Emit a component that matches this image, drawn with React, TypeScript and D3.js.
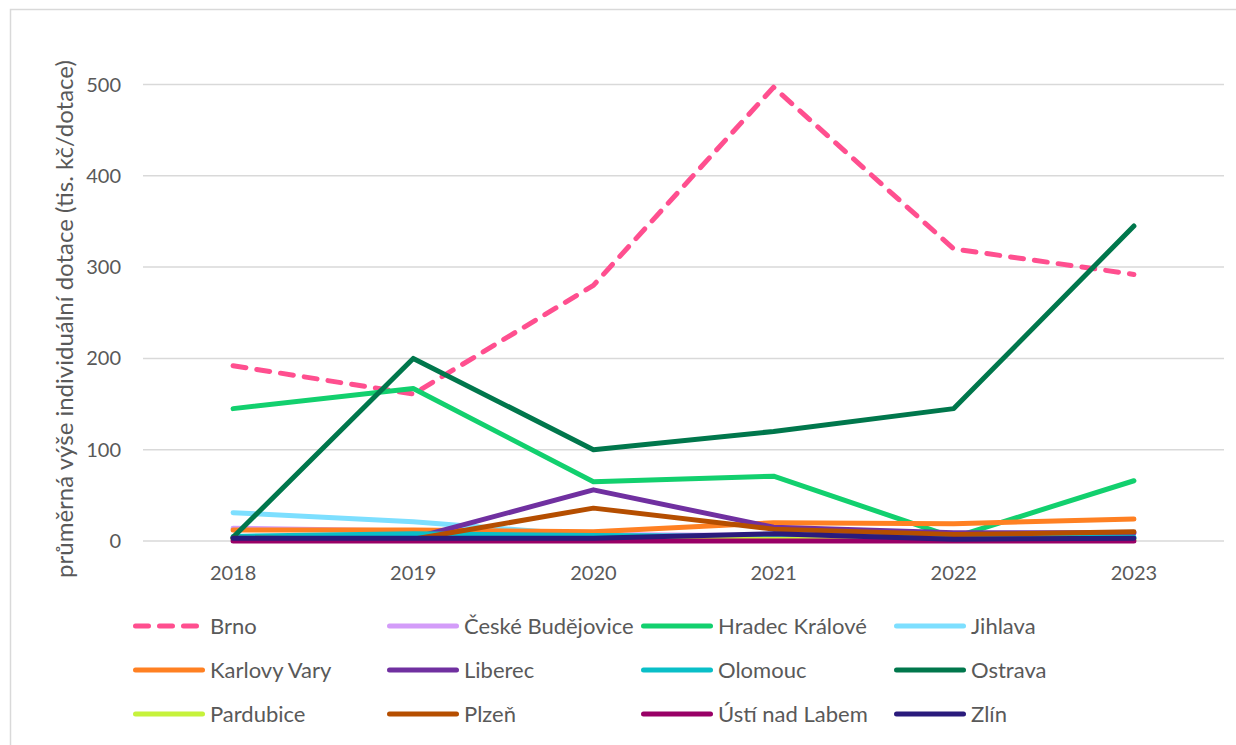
import React from "react";
import * as d3 from "d3";

const years = ["2018", "2019", "2020", "2021", "2022", "2023"];
const yTicks = [0, 100, 200, 300, 400, 500];

const seriesNames = [
  "Brno",
  "České Budějovice",
  "Hradec Králové",
  "Jihlava",
  "Karlovy Vary",
  "Liberec",
  "Olomouc",
  "Ostrava",
  "Pardubice",
  "Plzeň",
  "Ústí nad Labem",
  "Zlín",
];

const brno = [192, 161, 280, 497, 320, 292];
const ceskeBudejovice = [14, 11, 7, 6, 6, 8];
const hradecKralove = [145, 167, 65, 71, 4, 66];
const jihlava = [31, 21, 6, 4, 3, 3];
const karlovyVary = [12, 12, 10, 20, 19, 24];
const liberec = [3, 3, 56, 15, 9, 9];
const olomouc = [5, 8, 6, 5, 4, 4];
const ostrava = [4, 200, 100, 120, 145, 345];
const pardubice = [2, 2, 2, 2, 2, 2];
const plzen = [3, 2, 36, 13, 7, 10];
const ustiNadLabem = [0, 0, 0, 0, 0, 0];
const zlin = [3, 3, 3, 8, 2, 3];

const seriesValues = [
  brno,
  ceskeBudejovice,
  hradecKralove,
  jihlava,
  karlovyVary,
  liberec,
  olomouc,
  ostrava,
  pardubice,
  plzen,
  ustiNadLabem,
  zlin,
];

const colors = [
  "#FF4F8F",
  "#D39CF9",
  "#12D06E",
  "#7DDFFF",
  "#FF8022",
  "#7030A0",
  "#0ABFC8",
  "#00774C",
  "#C6F23B",
  "#B54E00",
  "#990066",
  "#2A1B7C",
];

const FONT = "Lato, 'Open Sans', sans-serif";
const TEXT = "#595959";

export default function App() {
  const W = 1236;
  const H = 745;
  const plotLeft = 143;
  const plotRight = 1224;
  const x = d3.scaleBand<string>().domain(years).range([plotLeft, plotRight]);
  const y = d3.scaleLinear().domain([0, 500]).range([541, 84.5]);
  const cx = (yr: string) => (x(yr) as number) + x.bandwidth() / 2;

  const line = d3
    .line<number>()
    .x((_, i) => cx(years[i]))
    .y((d) => y(d));

  const legendCols = [133, 387, 641, 894];
  const legendRows = [626, 670, 714];

  return (
    <svg
      width={W}
      height={H}
      style={{ position: "absolute", left: 0, top: 0, background: "#fff" }}
      fontFamily={FONT}
    >
      <rect x={0} y={0} width={W} height={H} fill="#fff" />
      <rect
        x={10.5}
        y={9.5}
        width={W + 20}
        height={H + 20}
        fill="none"
        stroke="#D9D9D9"
        strokeWidth={1.5}
      />
      {yTicks.map((t) => (
        <g key={t}>
          <line
            x1={plotLeft}
            x2={plotRight}
            y1={y(t)}
            y2={y(t)}
            stroke="#D9D9D9"
            strokeWidth={1.5}
          />
          <text
            x={121}
            y={y(t)}
            dy="0.35em"
            textAnchor="end"
            fontSize={20}
            fill={TEXT}
          >
            {t}
          </text>
        </g>
      ))}
      {years.map((yr) => (
        <text
          key={yr}
          x={cx(yr)}
          y={580}
          textAnchor="middle"
          fontSize={20}
          fill={TEXT}
        >
          {yr}
        </text>
      ))}
      <text
        transform={`translate(73,319) rotate(-90)`}
        textAnchor="middle"
        fontSize={24}
        fill={TEXT}
      >
        průměrná výše individuální dotace (tis. kč/dotace)
      </text>
      {seriesValues.map((vals, i) => (
        <path
          key={seriesNames[i]}
          d={line(vals) || ""}
          fill="none"
          stroke={colors[i]}
          strokeWidth={5}
          strokeLinejoin="round"
          strokeLinecap="round"
          strokeDasharray={i === 0 ? "13 11" : undefined}
        />
      ))}
      {seriesNames.map((name, i) => {
        const lx = legendCols[i % 4];
        const ly = legendRows[Math.floor(i / 4)];
        return (
          <g key={name}>
            <line
              x1={lx + 2.5}
              x2={lx + 69.5}
              y1={ly}
              y2={ly}
              stroke={colors[i]}
              strokeWidth={5}
              strokeLinecap="round"
              strokeDasharray={i === 0 ? "13 11" : undefined}
            />
            <text
              x={lx + 77}
              y={ly}
              dy="0.35em"
              fontSize={22}
              fill={TEXT}
            >
              {name}
            </text>
          </g>
        );
      })}
    </svg>
  );
}
